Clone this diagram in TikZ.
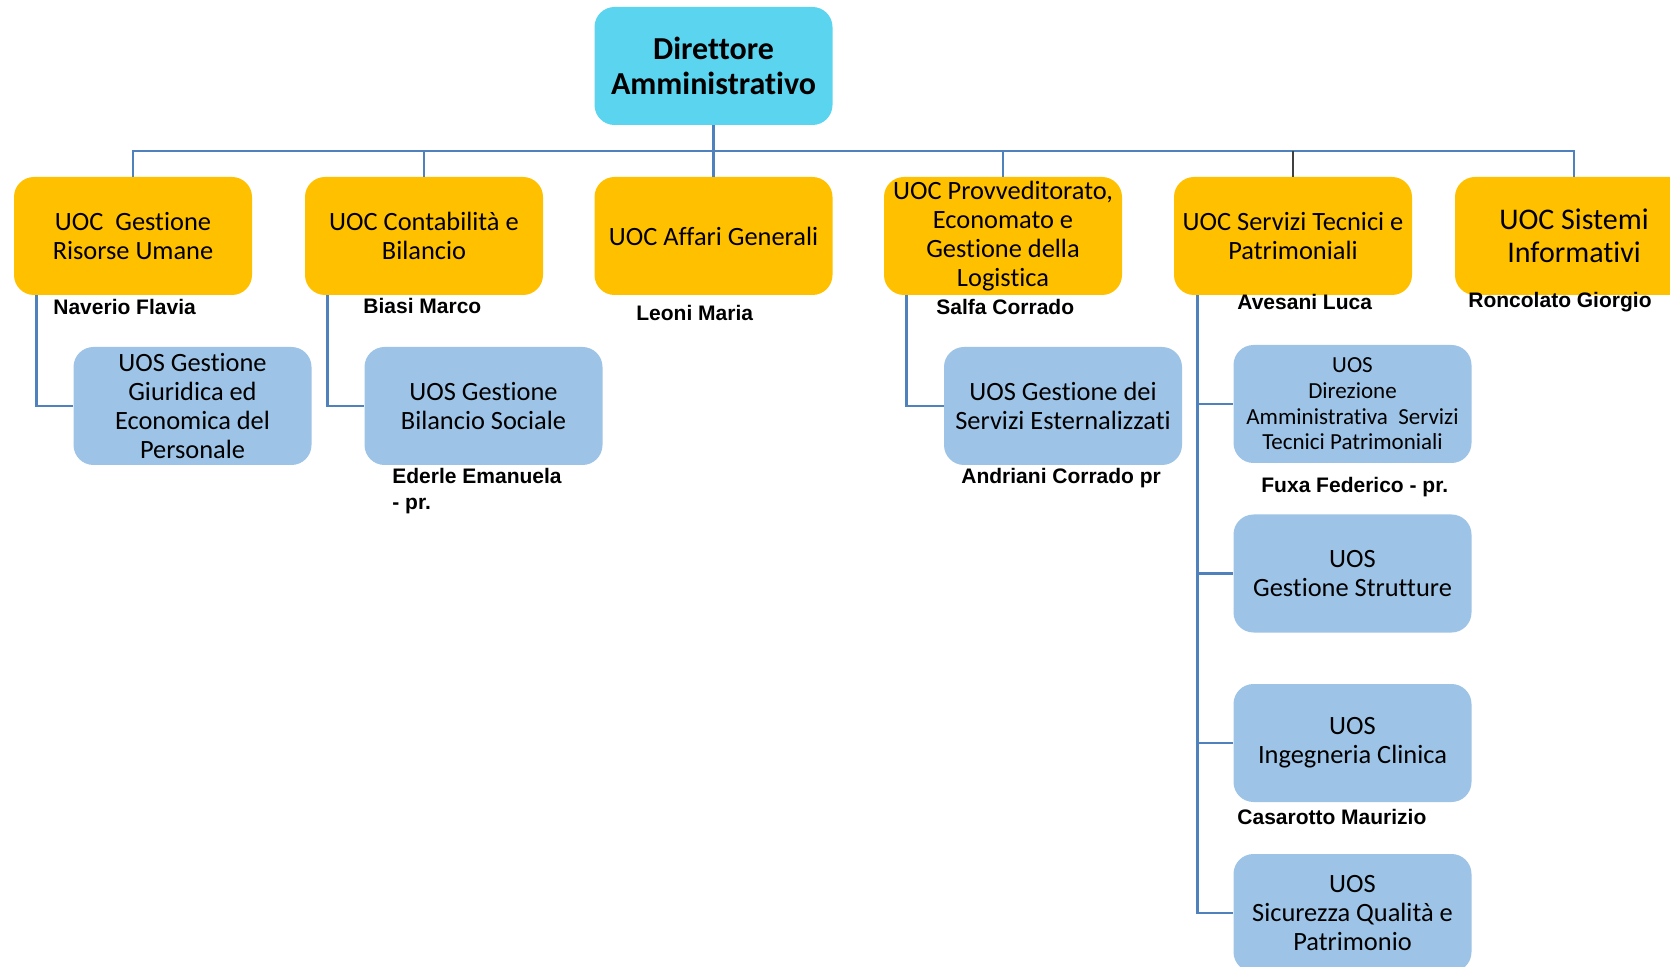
\documentclass[tikz,border=0pt]{standalone}
\usepackage{fontspec}
\setmainfont{Carlito}[Ligatures=NoCommon]
\newfontfamily\namefont{Liberation Sans}

\definecolor{dirblue}{HTML}{5BD5EF}
\definecolor{uocgold}{HTML}{FFC000}
\definecolor{uosblue}{HTML}{9DC3E6}
\definecolor{linkblue}{HTML}{4F81BD}

\tikzset{
    box/.style={rounded corners=10pt, minimum width=119pt, minimum height=59pt, align=center, inner sep=2pt},
    dirbox/.style={box, fill=dirblue, font=\fontsize{16}{17.5}\selectfont\bfseries},
    uoc/.style={box, fill=uocgold, font=\fontsize{13.2}{14.5}\selectfont},
    uos/.style={box, fill=uosblue, font=\fontsize{13.2}{14.5}\selectfont},
    persona/.style={font=\namefont\bfseries\fontsize{10.5}{13}\selectfont, inner sep=0pt, anchor=west},
    conn/.style={draw=linkblue, line width=1.4pt},
}

\begin{document}
\begin{tikzpicture}[x=0.5pt, y=-0.5pt]
    \useasboundingbox (0, 0) rectangle (1670, 967);

    \node[dirbox] (dir) at (713.5, 66) {Direttore\\Amministrativo};

    \node[uoc] (uoc1) at (133, 236) {UOC\ \ Gestione\\Risorse Umane};
    \node[uoc] (uoc2) at (424, 236) {UOC Contabilità e\\Bilancio};
    \node[uoc] (uoc3) at (713.5, 236) {UOC Affari Generali};
    \node[uoc] (uoc4) at (1003, 236) {UOC Provveditorato,\\Economato e\\Gestione della\\Logistica};
    \node[uoc] (uoc5) at (1293, 236) {UOC Servizi Tecnici e\\Patrimoniali};
    \node[uoc, font=\fontsize{15}{16.5}\selectfont] (uoc6) at (1574, 236) {UOC Sistemi\\Informativi};

    \node[uos] (uos1) at (192.5, 406) {UOS Gestione\\Giuridica ed\\Economica del\\Personale};
    \node[uos] (uos2) at (483.5, 406) {UOS Gestione\\Bilancio Sociale};
    \node[uos] (uos3) at (1063, 406) {UOS Gestione dei\\Servizi Esternalizzati};
    \node[uos, font=\fontsize{11.5}{12.8}\selectfont] (uos4) at (1352.5, 404) {UOS\\Direzione\\Amministrativa\ \ Servizi\\Tecnici Patrimoniali};
    \node[uos] (uos5) at (1352.5, 573.5) {UOS\\Gestione Strutture};
    \node[uos] (uos6) at (1352.5, 743) {UOS\\Ingegneria Clinica};
    \node[uos] (uos7) at (1352.5, 913) {UOS\\Sicurezza Qualità e\\Patrimonio};

    \coordinate (bus) at (0, 151);
    \draw[conn] (dir.south) -- (dir.south |- bus);
    \draw[conn] (uoc1.north) -- (uoc1.north |- bus) -- (uoc6.north |- bus) -- (uoc6.north);
    \foreach \u in {uoc2, uoc3, uoc4}
        \draw[conn] (\u.north) -- (\u.north |- bus);
    \draw[darkgray, line width=0.6pt] (uoc5.north) -- (uoc5.north |- bus);

    \draw[conn] ([xshift=11.5pt]uoc1.south west) |- (uos1.west);
    \draw[conn] ([xshift=11.5pt]uoc2.south west) |- (uos2.west);
    \draw[conn] ([xshift=11.5pt]uoc4.south west) |- (uos3.west);
    \coordinate (spine) at ([xshift=12pt]uoc5.south west);
    \draw[conn] (spine) |- (uos7.west);
    \foreach \u in {uos4, uos5, uos6}
        \draw[conn] (spine |- \u.west) -- (\u.west);

    \node[persona] (n1) at (53, 307) {Naverio Flavia};
    \node[persona] (n2) at (363, 306) {Biasi Marco};
    \node[persona] (n3) at (636, 313) {Leoni Maria};
    \node[persona] (n4) at (936, 307) {Salfa Corrado};
    \node[persona] (n5) at (1237, 302) {Avesani Luca};
    \node[persona] (n6) at (1468, 302) {Roncolato Giorgio};
    \node[persona, align=left] (n7) at (392, 491) {Ederle Emanuela\\- pr.};
    \node[persona] (n8) at (961, 478) {Andriani Corrado pr};
    \node[persona] (n9) at (1261, 487) {Fuxa Federico - pr.};
    \node[persona] (n10) at (1237, 817) {Casarotto Maurizio};
\end{tikzpicture}
\end{document}
